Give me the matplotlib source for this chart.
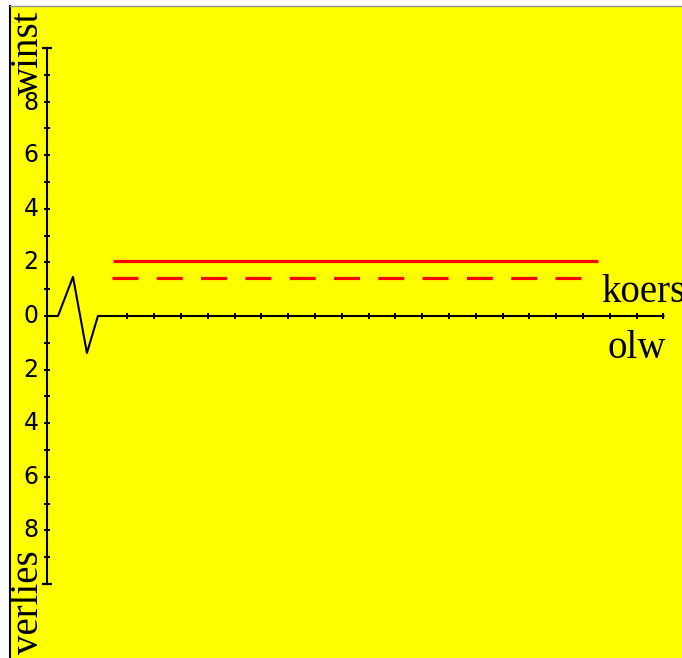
import matplotlib.pyplot as plt

plt.rcParams['lines.scale_dashes'] = False

# data (1 unit = 26.8 px, origin at the axis cross)
y_ticks = list(range(-9, 10))
y_labels = [-8, -6, -4, -2, 0, 2, 4, 6, 8]
x_ticks = list(range(3, 24))

# axis break zigzag on the horizontal axis
zig_x = [0, 0.41, 0.97, 1.49, 1.90, 23]
zig_y = [0, 0, 1.46, -1.38, 0, 0]

# the two red lines
solid_x = [2.46, 20.56]
solid_y = [2.05, 2.05]
dash_x = [2.44, 19.92]
dash_y = [1.42, 1.42]

px = 26.8

fig = plt.figure(figsize=(6.82, 6.58), dpi=100, facecolor='white')
ax = fig.add_axes([10 / 682, 0, 672 / 682, 652 / 658])
ax.set_facecolor('#ffff00')
ax.set_xlim((10 - 47) / px, (682 - 47) / px)
ax.set_ylim(-(658 - 316) / px, (316 - 6) / px)
ax.set_xticks([])
ax.set_yticks([])
for s in ['right', 'bottom']:
    ax.spines[s].set_visible(False)
ax.spines['left'].set_color('black')
ax.spines['left'].set_linewidth(1.5)
ax.spines['top'].set_color('#909090')
ax.spines['top'].set_linewidth(1.0)

# vertical axis
ax.plot([0, 0], [-10, 10], color='black', lw=1.5, solid_capstyle='butt')
ax.plot([0] * len(y_ticks), y_ticks, ls='none', marker='_', ms=4.5, mew=1.4, color='black')
ax.plot([0, 0], [-10, 10], ls='none', marker='_', ms=7.5, mew=1.6, color='black')
for v in y_labels:
    yy = v - 0.07 if v == 8 else v
    ax.text(-0.32, yy, str(abs(v)), ha='right', va='center', fontsize=17,
            family=['Liberation Sans Narrow', 'DejaVu Sans'], color='black')

# horizontal axis with break
ax.plot(zig_x, zig_y, color='black', lw=1.5)
ax.plot(x_ticks, [0] * len(x_ticks), ls='none', marker='|', ms=4.5, mew=1.4, color='black')

# red lines
ax.plot(solid_x, solid_y, color='#ff0000', lw=2.3, solid_capstyle='butt')
ax.plot(dash_x, dash_y, color='#ff0000', lw=2.3, dashes=(26 * 0.72, 18.3 * 0.72),
        dash_capstyle='butt')

# labels
serif = dict(family='Liberation Serif', fontsize=28, color='black')
ax.text(-0.34, 8.25, 'winst', rotation=90, rotation_mode='anchor',
        ha='left', va='baseline', **serif)
ax.text(-0.34, -12.61, 'verlies', rotation=90, rotation_mode='anchor',
        ha='left', va='baseline', **serif)
ax.text(20.67, 0.52, 'koers', ha='left', va='baseline', **serif)
ax.text(20.9, -1.57, 'olw', ha='left', va='baseline', **serif)

fig.savefig('out.png', dpi=100, facecolor='white')
